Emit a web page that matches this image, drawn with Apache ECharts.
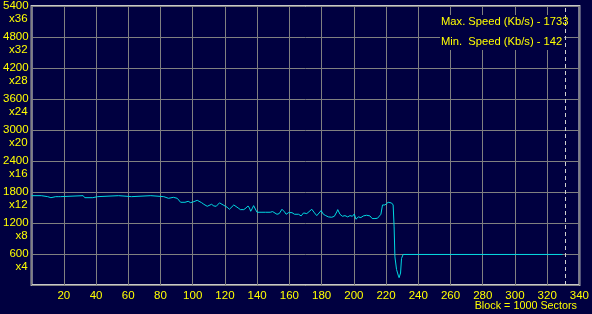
<!DOCTYPE html>
<html>
<head>
<meta charset="utf-8">
<script src="https://cdn.jsdelivr.net/npm/echarts@6/dist/echarts.min.js"></script>
<style>
html,body{margin:0;padding:0;background:#000040;}
#c{width:592px;height:314px;}
</style>
</head>
<body>
<div id="c"></div>
<script>
var blocks = [0,6,7,10,10.5,12,12.5,15,15.5,16,16.5,18,19,32,32.5,33,38,39,41,42,54,55,62,63,74,75,82,83,85,86,88,89,90.4,91.5,92.5,95.2,96,97.2,98.7,99.7,100.7,101.8,102.8,103.8,105.5,106.9,109,110,111.7,113.1,114.6,115.8,116.6,117.8,118.9,119.9,121.4,122.8,124,125.5,126.5,128.2,129.6,131.7,133.1,134.3,135.2,136,136.8,137.8,138.9,139.9,143,145.1,146.1,148.1,149.6,150.8,152.3,153.7,155.4,157,158,159.5,161.6,163.2,165.7,167.3,168.8,169.8,170.8,171.9,173.9,175.6,177,178.1,179.7,181.1,182.6,184.2,186.3,187.9,189.4,190,191.4,192.9,194.5,196.2,197.6,199.1,200.3,201.3,202.8,204.4,205.9,207.9,210,211.4,213.1,214.7,215.8,216.8,217.8,219.3,220.3,221.3,222.4,223.4,224.4,225,225.5,226.5,227.5,228.1,229,229.6,230.6,329.5];
var speeds = [1729,1729,1710,1710,1690,1690,1710,1710,1690,1690,1710,1710,1729,1729,1710,1690,1690,1710,1710,1729,1729,1710,1710,1729,1729,1710,1710,1678,1678,1697,1697,1678,1678,1652,1601,1601,1620,1620,1594,1594,1613,1594,1639,1652,1594,1562,1523,1536,1562,1530,1523,1530,1590,1620,1549,1517,1504,1466,1498,1549,1536,1491,1459,1459,1491,1530,1491,1427,1472,1536,1498,1408,1408,1408,1382,1408,1421,1395,1369,1382,1466,1414,1369,1401,1401,1369,1369,1337,1395,1414,1382,1350,1466,1395,1343,1343,1440,1369,1343,1318,1311,1330,1414,1459,1369,1330,1343,1318,1343,1330,1375,1273,1318,1305,1337,1350,1337,1286,1286,1292,1254,1369,1549,1549,1575,1601,1607,1588,1549,1125,546,302,193,142,232,514,591,591];
var markerBlock = 331;
var speedMultiple = 150; // 1x CD speed in KB/s, for the "x" labels
var maxText = 'Max. Speed (Kb/s) - 1733';
var minText = 'Min.  Speed (Kb/s) - 142';
var unitText = 'Block = 1000 Sectors';

var data = blocks.map(function(b,i){return [b, speeds[i]];});
var chart = echarts.init(document.getElementById('c'));
var fontFam = '"Liberation Sans", Arial, sans-serif';
var yBase = {
  type:'value', min:0, max:5400, interval:600, position:'left',
  axisLine:{show:false}, axisTick:{show:false}
};
chart.setOption({
  backgroundColor: '#000040',
  animation: false,
  grid: {left:30, right:11, top:5, bottom:29, show:true, borderColor:'#c8c8c8', borderWidth:2, backgroundColor:'transparent'},
  xAxis: {
    type:'value', min:0, max:340, interval:20,
    axisLine:{show:false}, axisTick:{show:false},
    splitLine:{show:true, lineStyle:{color:'#808080', width:1}},
    axisLabel:{color:'#ffff00', fontSize:11.5, fontFamily:fontFam, margin:5, showMaxLabel:true,
      formatter:function(v){return v===0?'':String(v);}}
  },
  yAxis: [
    Object.assign({}, yBase, {
      splitLine:{show:true, lineStyle:{color:'#808080', width:1}},
      axisLabel:{color:'#ffff00', fontSize:11.5, fontFamily:fontFam, margin:3, showMaxLabel:true,
        formatter:function(v){return v===0?'':String(v);}}
    }),
    Object.assign({}, yBase, {
      splitLine:{show:false},
      axisLabel:{color:'#ffff00', fontSize:11.5, fontFamily:fontFam, margin:4, showMaxLabel:true,
        verticalAlign:'top', lineHeight:25,
        formatter:function(v){return v===0?'':'x'+(v/speedMultiple);}}
    })
  ],
  series: [{
    type:'line', data:data, showSymbol:false, symbol:'none',
    lineStyle:{color:'#00d8e0', width:1}, itemStyle:{color:'#00d8e0'},
    markLine:{silent:true, symbol:'none', label:{show:false},
      lineStyle:{color:'#d0d0d0', type:[4,3], width:1},
      data:[{xAxis:markerBlock}]}
  }],
  graphic: [
    {type:'rect', left:440, top:15, z:10, shape:{width:124, height:35}, style:{fill:'#000040'}},
    {type:'text', left:441, top:16, z:11, style:{text:maxText, fill:'#ffff00', font:'11.2px '+fontFam}},
    {type:'text', left:441, top:36, z:11, style:{text:minText, fill:'#ffff00', font:'11.2px '+fontFam}},
    {type:'text', right:15, top:301, z:11, style:{text:unitText, fill:'#ffff00', font:'10.8px '+fontFam}}
  ]
});
</script>
</body>
</html>
